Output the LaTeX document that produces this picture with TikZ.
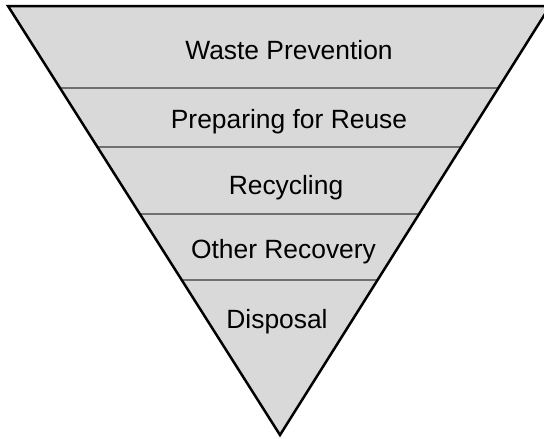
\documentclass[tikz,border=0pt]{standalone}
\usepackage{fontspec}
\setmainfont{Liberation Sans}
\usetikzlibrary{calc}
\definecolor{pyrfill}{RGB}{217,217,217}
\definecolor{pyrline}{RGB}{112,112,112}

\begin{document}
\begin{tikzpicture}[x=1pt,y=-1pt,
level/.style={draw=pyrline,line width=2pt},
lbl/.style={anchor=base,font=\fontsize{26.4}{30}\selectfont}]
\useasboundingbox (0,0) rectangle (544,439);
\clip (0,0) rectangle (544,439);
\coordinate (tl) at (8,6);
\coordinate (tr) at (550,6);
\coordinate (ap) at (280,435);
\fill[pyrfill] (tl) -- (tr) -- (ap) -- cycle;
% level boundaries
\foreach \t [count=\i] in {0.191,0.329,0.485,0.639}{
  \coordinate (l\i) at ($(tl)!\t!(ap)$);
  \coordinate (r\i) at ($(tr)!\t!(ap)$);
  \draw[level] (l\i) -- (r\i);
}
\draw[line width=2.5pt,line join=miter] (tl) -- (tr) -- (ap) -- cycle;
\node[lbl] (waste) at (289,59) {Waste Prevention};
\node[lbl] (reuse) at (289,128) {Preparing for Reuse};
\node[lbl] (recycle) at (286,194) {Recycling};
\node[lbl] (recover) at (283.5,258) {Other Recovery};
\node[lbl] (disposal) at (277,328) {Disposal};
\end{tikzpicture}
\end{document}
